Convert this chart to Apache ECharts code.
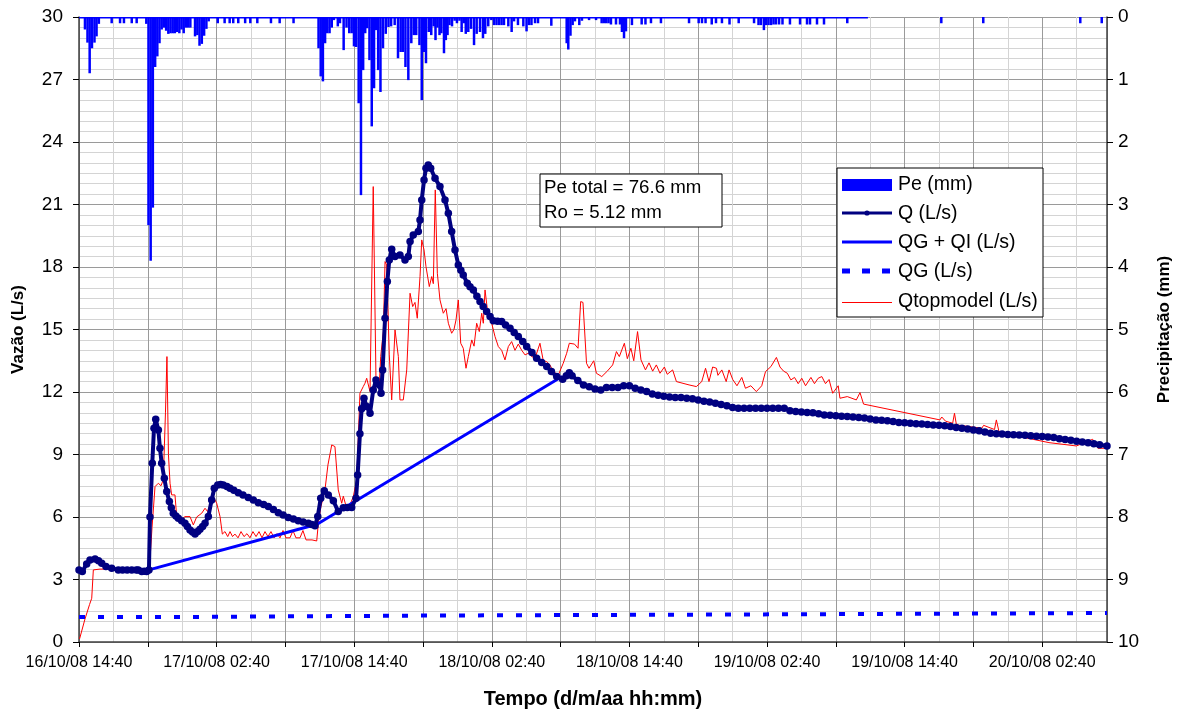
<!DOCTYPE html>
<html>
<head>
<meta charset="utf-8">
<title>Vazão e precipitação</title>
<script src="https://cdn.jsdelivr.net/npm/echarts@6/dist/echarts.min.js"></script>
<style>
  html, body { margin: 0; padding: 0; background: #fff; }
  #chart { width: 1187px; height: 716px; }
</style>
</head>
<body>
<div id="chart"></div>
<script>
// Time is expressed in hours since 16/10/08 14:40.
const START_UTC = Date.UTC(2008, 9, 16, 14, 40);
const T_MAX = 89.65;

// Effective precipitation, [hour, mm]
const pe = [
  [0.52,0.2],[0.74,0.41],[0.93,0.9],[1.13,0.5],[1.35,0.41],[1.53,0.31],[1.73,0.11],
  [2.85,0.1],[3.58,0.1],[3.92,0.1],[4.6,0.1],[5.03,0.1],
  [5.87,0.11],[6.06,3.33],[6.25,3.9],[6.44,3.05],[6.64,0.8],[6.83,0.63],[7.02,0.42],
  [7.21,0.2],[7.4,0.17],[7.6,0.22],[7.79,0.27],[7.98,0.26],[8.17,0.26],[8.36,0.26],
  [8.55,0.24],[8.75,0.26],[8.94,0.2],[9.13,0.26],[9.32,0.17],[9.51,0.17],[9.71,0.17],
  [10.12,0.31],[10.32,0.29],[10.51,0.46],[10.71,0.43],[10.91,0.3],[11.11,0.19],[11.31,0.07],
  [12.1,0.1],[12.7,0.1],[13.14,0.1],[13.45,0.1],[13.89,0.1],[14.49,0.1],[14.94,0.1],
  [15.55,0.1],[16.74,0.1],[17.5,0.1],[18.71,0.1],
  [20.89,0.5],[21.08,0.95],[21.27,1.03],[21.46,0.42],[21.65,0.26],[21.85,0.26],[22.04,0.17],
  [22.23,0.05],[22.57,0.15],[22.76,0.1],[23.08,0.53],[23.33,0.17],[23.57,0.26],[23.78,0.26],
  [23.98,0.47],[24.17,0.48],[24.39,1.38],[24.59,2.85],[24.78,0.85],[24.96,0.26],[25.13,0.18],
  [25.33,0.69],[25.53,1.75],[25.73,1.14],[25.92,0.21],[26.09,0.85],[26.29,1.2],[26.51,0.5],
  [26.75,0.27],[26.99,0.16],[27.22,0.15],[27.53,0.13],[27.82,0.66],[28.05,0.56],[28.25,0.56],
  [28.47,0.8],[28.72,1.01],[28.98,0.42],[29.2,0.29],[29.41,0.29],[29.69,0.45],[29.89,1.33],
  [30.07,0.56],[30.26,0.74],[30.5,0.24],[30.72,0.29],[30.93,0.15],[31.09,0.37],[31.26,0.17],
  [31.44,0.29],[31.6,0.26],[31.83,0.58],[31.99,0.37],[32.14,0.29],[32.31,0.13],[32.53,0.15],
  [32.76,0.06],[32.96,0.1],[33.18,0.06],[33.37,0.24],[33.56,0.1],[33.73,0.27],[33.95,0.24],
  [34.19,0.19],[34.45,0.45],[34.68,0.27],[34.97,0.24],[35.23,0.34],[35.43,0.27],[35.69,0.15],
  [35.96,0.05],[36.19,0.13],[36.41,0.13],[36.63,0.13],[36.85,0.13],[37.06,0.13],[37.44,0.15],
  [37.73,0.24],[37.94,0.07],[38.28,0.13],[38.75,0.15],[39.03,0.23],[39.24,0.13],[39.46,0.13],
  [39.77,0.1],[40.03,0.1],[41.19,0.14],[42.53,0.42],[42.67,0.52],[42.86,0.3],[43.05,0.13],
  [43.25,0.07],[43.63,0.13],[43.86,0.06],[44.48,0.05],[45.09,0.05],
  [45.58,0.1],[45.78,0.1],[45.98,0.1],[46.18,0.1],[46.39,0.12],[46.83,0.12],[47.18,0.12],
  [47.35,0.24],[47.53,0.34],[47.7,0.23],[48.22,0.13],[49.07,0.12],[49.4,0.12],[49.88,0.1],
  [50.75,0.1],[53.2,0.1],[54.04,0.1],[54.33,0.1],[54.64,0.1],[55.18,0.12],[55.55,0.1],
  [56.07,0.1],[56.73,0.12],[57.53,0.1],[58.87,0.1],[59.26,0.13],[59.47,0.13],[59.73,0.21],
  [59.91,0.13],[60.13,0.13],[60.35,0.13],[60.57,0.12],[60.78,0.12],[61.05,0.12],[61.35,0.12],
  [62.0,0.12],[62.88,0.12],[63.49,0.12],[63.75,0.12],[64.36,0.12],[64.97,0.12],[67.0,0.1],
  [75.2,0.1],[78.86,0.1],[87.32,0.1],[89.19,0.1]
];

// Observed discharge Q, [hour, L/s]
const qObs = [
  [0,3.46],[0.29,3.38],[0.67,3.75],[0.96,3.94],[1.4,3.98],[1.7,3.9],[1.98,3.78],[2.35,3.62],
  [2.85,3.54],[3.43,3.46],[3.8,3.46],[4.2,3.46],[4.6,3.46],[5.0,3.46],[5.17,3.46],[5.47,3.38],
  [5.7,3.4],[5.9,3.38],[6.1,3.46],[6.19,6.0],[6.39,8.58],[6.54,10.26],[6.69,10.69],[6.92,10.18],
  [7.06,9.3],[7.21,8.58],[7.44,7.86],[7.65,7.22],[7.88,6.74],[8.05,6.45],[8.22,6.18],[8.45,6.05],
  [8.66,5.94],[8.95,5.82],[9.24,5.7],[9.45,5.55],[9.68,5.38],[9.9,5.28],[10.12,5.18],[10.35,5.3],
  [10.55,5.41],[10.78,5.55],[10.99,5.7],[11.28,6.02],[11.57,6.82],[11.8,7.38],[12.1,7.54],
  [12.35,7.56],[12.58,7.54],[12.9,7.46],[13.17,7.38],[13.5,7.28],[13.89,7.17],[14.3,7.06],
  [14.76,6.94],[15.2,6.82],[15.64,6.69],[16.1,6.6],[16.51,6.5],[16.95,6.36],[17.38,6.21],
  [17.8,6.1],[18.25,5.98],[18.7,5.9],[19.12,5.82],[19.55,5.76],[20.0,5.7],[20.3,5.64],[20.58,5.58],
  [20.82,6.02],[21.08,6.9],[21.39,7.26],[21.74,7.06],[22.18,6.78],[22.61,6.26],[23.05,6.45],
  [23.4,6.46],[23.78,6.46],[24.16,6.9],[24.3,8.02],[24.5,10.0],[24.65,11.2],[24.85,11.7],
  [25.09,11.3],[25.38,10.98],[25.66,12.1],[25.9,12.58],[26.19,12.34],[26.34,11.94],[26.48,13.06],
  [26.69,15.54],[26.89,17.3],[27.06,18.34],[27.27,18.85],[27.56,18.5],[27.99,18.58],[28.43,18.34],
  [28.72,18.5],[28.87,19.22],[29.15,19.54],[29.59,19.7],[29.74,20.26],[29.89,21.22],[30.09,22.18],
  [30.26,22.74],[30.46,22.9],[30.67,22.74],[31.05,22.26],[31.48,21.86],[31.92,21.22],[32.21,20.58],
  [32.5,19.7],[32.79,18.82],[33.08,18.1],[33.3,17.85],[33.51,17.62],[33.86,17.22],[34.1,17.05],
  [34.39,16.9],[34.7,16.6],[34.97,16.34],[35.25,16.1],[35.55,15.86],[35.85,15.62],[36.13,15.42],
  [36.5,15.4],[36.86,15.38],[37.2,15.22],[37.59,15.06],[37.95,14.86],[38.31,14.66],[38.7,14.42],
  [39.04,14.18],[39.5,13.9],[39.91,13.62],[40.35,13.42],[40.79,13.22],[41.2,12.98],[41.66,12.74],
  [42.18,12.61],[42.5,12.78],[42.76,12.93],[43.0,12.78],[43.5,12.55],[44.0,12.34],[44.5,12.25],
  [45.0,12.14],[45.5,12.1],[46.0,12.22],[46.5,12.22],[47.0,12.22],[47.5,12.3],[48.0,12.3],
  [48.5,12.18],[49.0,12.1],[49.5,12.02],[50.0,11.9],[50.5,11.85],[51.0,11.8],[51.5,11.76],
  [52.0,11.74],[52.5,11.74],[53.0,11.7],[53.5,11.68],[54.0,11.62],[54.5,11.56],[55.0,11.52],
  [55.5,11.46],[56.0,11.4],[56.5,11.34],[57.0,11.26],[57.5,11.22],[58.0,11.22],[58.5,11.22],
  [59.0,11.22],[59.5,11.22],[60.0,11.22],[60.5,11.22],[61.0,11.22],[61.5,11.22],[62.0,11.1],
  [62.5,11.06],[63.0,11.04],[63.5,11.02],[64.0,11.0],[64.5,10.96],[65.0,10.9],[65.5,10.88],
  [66.0,10.86],[66.5,10.84],[67.0,10.82],[67.5,10.8],[68.0,10.78],[68.5,10.75],[69.0,10.7],
  [69.5,10.66],[70.0,10.64],[70.5,10.62],[71.0,10.58],[71.5,10.54],[72.0,10.52],[72.5,10.5],
  [73.0,10.48],[73.5,10.46],[74.0,10.44],[74.5,10.42],[75.0,10.4],[75.5,10.38],[76.0,10.34],
  [76.5,10.3],[77.0,10.26],[77.5,10.22],[78.0,10.18],[78.5,10.14],[79.0,10.08],[79.5,10.02],
  [80.0,10.0],[80.5,9.98],[81.0,9.96],[81.5,9.95],[82.0,9.94],[82.5,9.92],[83.0,9.9],
  [83.5,9.88],[84.0,9.86],[84.5,9.84],[85.0,9.82],[85.5,9.76],[86.0,9.72],[86.5,9.68],
  [87.0,9.64],[87.5,9.6],[88.0,9.56],[88.5,9.52],[89.0,9.47],[89.65,9.41]
];

// Groundwater + interflow separation, [hour, L/s]
const qgqi = [[6.1,3.46],[20.76,5.65],[42.12,12.74]];

// Groundwater flow, [hour, L/s]
const qg = [[0,1.2],[8.6,1.2],[8.6,1.27],[31,1.27],[31,1.33],[62,1.33],[62,1.39],[89.65,1.39]];

// TOPMODEL simulated discharge, [hour, L/s]
const qTop = [
  [0.05,0.15],[0.52,1.1],[0.92,1.8],[1.11,2.1],[1.25,3.46],[1.83,3.5],[3.14,3.5],[5.9,3.5],
  [6.15,3.6],[6.37,5.5],[6.63,7.46],[6.92,7.62],[7.15,7.5],[7.35,7.78],[7.54,11.0],[7.67,13.7],
  [7.8,9.0],[7.94,7.62],[8.08,7.06],[8.37,7.06],[8.52,6.02],[8.81,5.8],[9.24,6.02],[9.68,6.02],
  [9.97,5.62],[10.26,6.0],[10.7,6.18],[10.99,6.42],[11.22,6.26],[11.42,6.58],[11.71,6.98],
  [12.01,6.66],[12.3,6.02],[12.5,5.18],[12.73,5.3],[12.97,5.06],[13.17,5.3],[13.39,5.06],
  [13.6,5.18],[13.87,5.0],[14.13,5.3],[14.39,5.06],[14.65,5.2],[14.91,5.0],[15.17,5.3],
  [15.44,5.06],[15.7,5.3],[15.96,5.0],[16.22,5.3],[16.48,5.06],[16.74,5.3],[17.01,5.0],
  [17.27,5.2],[17.53,5.0],[17.79,5.35],[18.05,5.0],[18.4,5.0],[18.66,5.35],[18.92,5.0],
  [19.27,5.0],[19.53,5.35],[19.8,4.9],[20.32,4.9],[20.73,4.85],[20.89,5.8],[21.1,6.5],
  [21.45,7.3],[21.71,8.5],[22.04,9.46],[22.32,9.38],[22.61,7.3],[22.91,6.66],[23.05,7.0],
  [23.26,6.58],[23.63,6.58],[23.92,6.98],[24.22,7.78],[24.5,11.94],[24.79,12.26],[24.94,12.42],
  [25.09,12.66],[25.38,12.02],[25.66,21.86],[25.9,12.58],[26.19,12.34],[26.31,13.7],[26.54,14.9],
  [26.69,18.26],[26.83,18.1],[27.06,13.78],[27.27,11.62],[27.41,11.62],[27.56,14.98],[27.85,13.7],
  [27.99,11.62],[28.28,11.62],[28.58,13.06],[28.87,16.74],[29.1,16.1],[29.3,16.3],[29.5,15.54],
  [29.74,17.54],[29.89,19.3],[30.09,18.82],[30.26,18.02],[30.55,17.06],[30.76,17.54],[30.9,17.2],
  [31.07,21.7],[31.25,17.7],[31.48,16.42],[31.77,15.78],[32.01,16.0],[32.21,15.3],[32.5,14.82],
  [32.7,15.0],[32.88,15.46],[33.08,16.42],[33.29,14.34],[33.51,14.1],[33.75,13.14],[33.95,13.7],
  [34.25,14.5],[34.45,14.2],[34.68,15.3],[34.91,14.9],[35.12,15.78],[35.26,15.3],[35.41,16.9],
  [35.69,15.6],[35.99,15.3],[36.28,14.66],[36.57,14.18],[36.86,14.0],[37.15,13.54],[37.44,14.18],
  [37.73,14.42],[38.02,14.0],[38.31,14.3],[38.61,14.0],[38.9,13.78],[39.18,13.86],[39.48,13.7],
  [39.77,13.62],[40.2,14.34],[40.49,13.5],[40.79,13.46],[41.07,13.3],[41.36,12.98],[41.8,12.82],
  [42.23,13.38],[42.53,13.86],[42.76,14.34],[43.21,14.3],[43.52,14.1],[43.75,16.34],[43.95,16.3],
  [44.26,13.38],[44.48,13.14],[44.89,13.5],[45.12,12.9],[45.59,12.74],[46.07,13.0],[46.54,13.3],
  [46.87,13.94],[47.12,13.7],[47.56,14.34],[47.82,13.6],[48.13,14.1],[48.38,13.5],[48.71,14.9],
  [49.01,13.54],[49.4,13.06],[49.71,13.4],[50.03,13.0],[50.35,13.3],[50.67,12.9],[51.05,13.2],
  [51.3,12.85],[51.77,13.06],[52.1,12.5],[53.2,12.34],[53.84,12.26],[54.31,12.5],[54.64,13.14],
  [54.94,12.5],[55.26,13.2],[55.59,13.14],[55.72,12.8],[56.06,13.06],[56.44,12.5],[56.69,13.06],
  [57.01,12.6],[57.38,12.3],[57.8,12.7],[58.12,12.18],[58.59,12.3],[59.07,12.02],[59.54,12.3],
  [59.87,12.98],[60.34,13.22],[60.82,13.66],[61.13,13.2],[61.45,13.0],[61.77,12.9],[62.08,12.58],
  [62.4,12.7],[62.72,12.4],[63.03,12.66],[63.36,12.3],[63.83,12.7],[64.14,12.4],[64.46,12.66],
  [64.78,12.74],[65.1,12.4],[65.41,12.6],[65.73,11.94],[66.21,12.3],[66.36,11.7],[67.0,11.78],
  [67.79,11.62],[68.11,11.97],[68.42,11.42],[75.08,10.66],[75.24,10.8],[75.57,10.6],[76.19,10.5],
  [76.35,10.98],[76.52,10.42],[78.73,10.26],[78.89,10.4],[79.36,10.3],[79.84,10.2],[80.0,10.66],
  [80.23,10.1],[82.06,9.86],[84.59,9.57],[86.98,9.41],[88.4,9.73],[88.86,9.3],[89.65,9.3]
];

const seriesNames = ['Pe (mm)', 'Q (L/s)', 'QG + QI (L/s)', 'QG (L/s)', 'Qtopmodel (L/s)'];
const summaryLines = ['Pe total = 76.6 mm', 'Ro = 5.12 mm'];

const FONT = '"Liberation Sans", Arial, sans-serif';
const NAVY = '#000080', BLUE = '#0000ff', RED = '#ff0000';
const pad = n => (n < 10 ? '0' : '') + n;
function timeLabel(v) {
  if (Math.abs(v % 12) > 1e-6) return '';
  const d = new Date(START_UTC + v * 3600e3);
  return pad(d.getUTCDate()) + '/' + pad(d.getUTCMonth() + 1) + '/' +
    pad(d.getUTCFullYear() % 100) + ' ' + pad(d.getUTCHours()) + ':' + pad(d.getUTCMinutes());
}

// Legend box, drawn as a framed panel with one key per series
function legendPanel() {
  const x0 = 837, y0 = 168, rowY = [185, 214, 243, 272, 301.5];
  const kx = 842, kw = 50, tx = 898;
  const els = [
    { type: 'rect', shape: { x: x0, y: y0, width: 206, height: 149 },
      style: { fill: '#fff', stroke: '#000', lineWidth: 1 }, z: 50 },
    { type: 'rect', shape: { x: kx, y: rowY[0] - 6, width: kw, height: 12 },
      style: { fill: BLUE }, z: 51 },
    { type: 'line', shape: { x1: kx, y1: rowY[1] - 1, x2: kx + kw, y2: rowY[1] - 1 },
      style: { stroke: NAVY, lineWidth: 3 }, z: 51 },
    { type: 'circle', shape: { cx: kx + kw / 2, cy: rowY[1] - 1, r: 2.6 },
      style: { fill: NAVY }, z: 52 },
    { type: 'line', shape: { x1: kx, y1: rowY[2] - 1, x2: kx + kw, y2: rowY[2] - 1 },
      style: { stroke: BLUE, lineWidth: 3 }, z: 51 },
    { type: 'line', shape: { x1: kx, y1: rowY[3] - 1, x2: kx + kw, y2: rowY[3] - 1 },
      style: { stroke: BLUE, lineWidth: 5, lineDash: [8, 12] }, z: 51 },
    { type: 'line', shape: { x1: kx, y1: rowY[4] + 1, x2: kx + kw, y2: rowY[4] + 1 },
      style: { stroke: RED, lineWidth: 1 }, z: 51 }
  ];
  seriesNames.forEach((name, i) => {
    els.push({ type: 'text', x: tx, y: rowY[i],
      style: { text: name, font: '19.5px ' + FONT, fill: '#000', verticalAlign: 'middle' }, z: 52 });
  });
  return els;
}

function summaryPanel() {
  return [
    { type: 'rect', shape: { x: 540, y: 174, width: 182, height: 53 },
      style: { fill: '#fff', stroke: '#000', lineWidth: 1 }, z: 50 },
    { type: 'text', x: 544, y: 187.5,
      style: { text: summaryLines[0], font: '18.7px ' + FONT, fill: '#000', verticalAlign: 'middle' }, z: 51 },
    { type: 'text', x: 544, y: 212.5,
      style: { text: summaryLines[1], font: '18.7px ' + FONT, fill: '#000', verticalAlign: 'middle' }, z: 51 }
  ];
}

const chart = echarts.init(document.getElementById('chart'), null, { renderer: 'canvas' });

chart.setOption({
  backgroundColor: '#ffffff',
  animation: false,
  textStyle: { fontFamily: FONT },
  grid: { left: 79, right: 80, top: 17, bottom: 74 },
  xAxis: {
    type: 'value',
    min: 0, max: T_MAX, interval: 6,
    name: 'Tempo (d/m/aa hh:mm)',
    nameLocation: 'middle', nameGap: 47,
    nameTextStyle: { fontFamily: FONT, fontSize: 20, fontWeight: 'bold', color: '#000' },
    axisLine: { onZero: false, lineStyle: { color: '#404040', width: 1.5 } },
    axisTick: { show: true, length: 5, lineStyle: { color: '#000' } },
    axisLabel: { formatter: timeLabel, fontSize: 16, color: '#000', margin: 13, showMaxLabel: false },
    splitLine: { show: true, lineStyle: { color: '#9a9a9a', width: 1 } },
    minorTick: { show: false, splitNumber: 2 },
    minorSplitLine: { show: true, lineStyle: { color: '#d4d4d4', width: 1 } }
  },
  yAxis: [
    {
      type: 'value', min: 0, max: 30, interval: 3,
      name: 'Vazão (L/s)', nameLocation: 'middle', nameGap: 52, nameRotate: 90,
      nameTextStyle: { fontFamily: FONT, fontSize: 17, fontWeight: 'bold', color: '#000' },
      axisLine: { show: true, lineStyle: { color: '#404040', width: 1.5 } },
      axisTick: { show: true, length: 6, lineStyle: { color: '#000' } },
      axisLabel: { fontSize: 19, color: '#000', margin: 16 },
      splitLine: { show: true, lineStyle: { color: '#9a9a9a', width: 1 } },
      minorTick: { show: false, splitNumber: 6 },
      minorSplitLine: { show: true, lineStyle: { color: '#d4d4d4', width: 1 } }
    },
    {
      type: 'value', min: 0, max: 10, interval: 1, inverse: true, position: 'right',
      name: 'Precipitação (mm)', nameLocation: 'middle', nameGap: 49, nameRotate: 90,
      nameTextStyle: { fontFamily: FONT, fontSize: 17, fontWeight: 'bold', color: '#000' },
      axisLine: { show: true, lineStyle: { color: '#404040', width: 1.5 } },
      axisTick: { show: true, length: 6, lineStyle: { color: '#000' } },
      axisLabel: { fontSize: 19, color: '#000', margin: 11 },
      splitLine: { show: false }
    }
  ],
  series: [
    {
      name: seriesNames[0], type: 'bar', yAxisIndex: 1,
      data: pe, barWidth: 2.5, barGap: '-100%',
      itemStyle: { color: BLUE },
      markArea: {
        silent: true,
        itemStyle: { color: BLUE },
        data: [[{ xAxis: 0, yAxis: 0 }, { xAxis: 68.8, yAxis: 0.025 }]]
      },
      z: 2
    },
    {
      name: seriesNames[4], type: 'line', data: qTop,
      showSymbol: false, symbol: 'none',
      lineStyle: { color: RED, width: 1 }, itemStyle: { color: RED },
      z: 3
    },
    {
      name: seriesNames[3], type: 'line', data: qg,
      showSymbol: false, symbol: 'none',
      lineStyle: { color: BLUE, width: 4, type: [6, 13] }, itemStyle: { color: BLUE },
      z: 3
    },
    {
      name: seriesNames[2], type: 'line', data: qgqi,
      showSymbol: false, symbol: 'none',
      lineStyle: { color: BLUE, width: 3 }, itemStyle: { color: BLUE },
      z: 4
    },
    {
      name: seriesNames[1], type: 'line', data: qObs,
      symbol: 'circle', symbolSize: 7.5, showSymbol: true,
      lineStyle: { color: NAVY, width: 4 }, itemStyle: { color: NAVY },
      z: 5
    }
  ],
  graphic: legendPanel().concat(summaryPanel())
});
</script>
</body>
</html>
